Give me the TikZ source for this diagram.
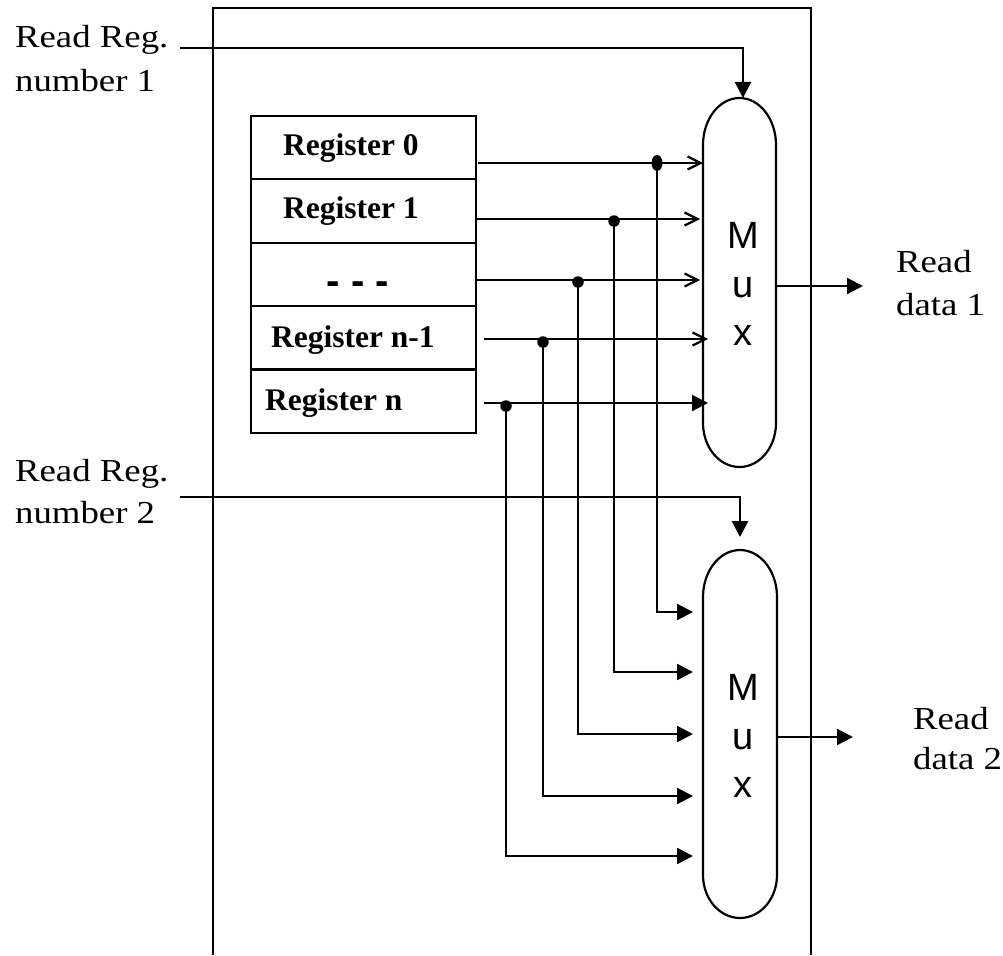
\documentclass[tikz,border=0pt]{standalone}
\usepackage{fontspec}
\newfontfamily\lblfont[FakeStretch=1.15]{Liberation Serif}
\newfontfamily\regfont{Liberation Serif}
\newfontfamily\muxfont{Liberation Sans}
\usetikzlibrary{arrows.meta,shapes.geometric}
\begin{document}
\begin{tikzpicture}[x=1pt,y=-1pt, line width=2.2pt,
  lbl/.style={font=\lblfont\fontsize{32}{43}\selectfont, inner sep=0pt, anchor=base west},
  reglbl/.style={font=\regfont\bfseries\fontsize{31.5}{36}\selectfont, inner sep=0pt, anchor=base west},
  dashlbl/.style={font=\muxfont\bfseries\fontsize{40}{44}\selectfont, inner sep=0pt, anchor=base west},
  muxlbl/.style={font=\muxfont\fontsize{38}{40}\selectfont, inner sep=0pt, anchor=base},
  regrow/.style={draw, rectangle, minimum width=225pt, minimum height=63.4pt, inner sep=0pt},
  barb/.style={-{Straight Barb[length=13pt,width=13pt]}},
  tri/.style={-{Triangle[length=16pt,width=16pt]}},
  jdot/.style={circle, fill, inner sep=0pt, minimum size=11.5pt},
  muxbox/.style={inner sep=0pt, minimum width=73pt, minimum height=369pt},
]
\useasboundingbox (0,0) rectangle (1003,955);

% outer frame (open at the bottom)
\draw (213,955) -- (213,8) -- (811,8) -- (811,955);

% register file
\foreach \i in {0,...,4} {
  \node[regrow] (r\i) at (363.5,{147.5+63.4*\i}) {};
}
\node[reglbl] (t0) at (282,155) {Register 0};
\node[reglbl] (t1) at (282,218) {Register 1};
\node[dashlbl] (t2) at (325.5,294) {- - -};
\node[reglbl] (t3) at (270,347) {Register n-1};
\node[reglbl] (t4) at (264,410) {Register n};

% multiplexers
\node[muxbox] (mux1) at (739.5,282.5) {};
\draw (703,145) arc[start angle=180,end angle=360,x radius=36.5,y radius=47]
      -- (776,423) arc[start angle=0,end angle=180,x radius=36.5,y radius=44] -- cycle;
\node[muxlbl] (M1) at (743,248) {M};
\node[muxlbl] (u1) at (743,297) {u};
\node[muxlbl] (x1) at (743,345) {x};

\node[muxbox] (mux2) at (740,734) {};
\draw (703,597) arc[start angle=180,end angle=360,x radius=37,y radius=47]
      -- (777,875) arc[start angle=0,end angle=180,x radius=37,y radius=43] -- cycle;
\node[muxlbl] (M2) at (743,700) {M};
\node[muxlbl] (u2) at (743,749) {u};
\node[muxlbl] (x2) at (743,797) {x};

% coordinates
\coordinate (s0) at (478,163); \coordinate (e0) at (703,163); \coordinate (j0) at (657,163);
\coordinate (s1) at (476,219); \coordinate (e1) at (700,219); \coordinate (j1) at (614,219);
\coordinate (s2) at (476,280); \coordinate (e2) at (700,280); \coordinate (j2) at (578,280);
\coordinate (s3) at (484,339); \coordinate (e3) at (708,339); \coordinate (j3) at (543,339);
\coordinate (s4) at (484,403); \coordinate (e4) at (708,403); \coordinate (j4) at (506,403);
\coordinate (m0) at (693,612);
\coordinate (m1) at (693,672);
\coordinate (m2) at (693,734);
\coordinate (m3) at (693,796);
\coordinate (m4) at (693,856);

% register outputs to mux 1
\draw[barb] (s0) -- (e0);
\draw[barb] (s1) -- (e1);
\draw[barb] (s2) -- (e2);
\draw[barb] (s3) -- (e3);
\draw[tri]  (s4) -- (e4);

% taps to mux 2
\draw[tri] (j0) |- (m0);
\draw[tri] (j1) |- (m1);
\draw[tri] (j2) |- (m2);
\draw[tri] (j3) |- (m3);
\draw[tri] (j4) |- (m4);

\node[ellipse, fill, inner sep=0pt, minimum width=11pt, minimum height=16pt] (d0) at (j0) {};
\node[jdot] (d1) at ([yshift=-2pt]j1) {};
\node[jdot] (d2) at ([yshift=-2pt]j2) {};
\node[jdot] (d3) at ([yshift=-3pt]j3) {};
\node[jdot] (d4) at ([yshift=-3pt]j4) {};

% read register number inputs
\coordinate (rr1) at (180,48);
\coordinate (rt1) at (743,98);
\draw[tri] (rr1) -| (rt1);
\coordinate (rr2) at (180,497);
\coordinate (rt2) at (740,537);
\draw[tri] (rr2) -| (rt2);

\node[lbl] (l1a) at (14,48) {Read Reg.};
\node[lbl] (l1b) at (14,92) {number 1};
\node[lbl] (l2a) at (14,481) {Read Reg.};
\node[lbl] (l2b) at (14,523) {number 2};

% outputs
\coordinate (o1) at (863,286);
\draw[tri] (mux1.east |- o1) -- (o1);
\coordinate (o2) at (853,737);
\draw[tri] (mux2.east |- o2) -- (o2);

\node[lbl] (d1a) at (895,272) {Read};
\node[lbl] (d1b) at (895,315) {data 1};
\node[lbl] (d2a) at (912,729) {Read};
\node[lbl] (d2b) at (912,769) {data 2};
\end{tikzpicture}
\end{document}
